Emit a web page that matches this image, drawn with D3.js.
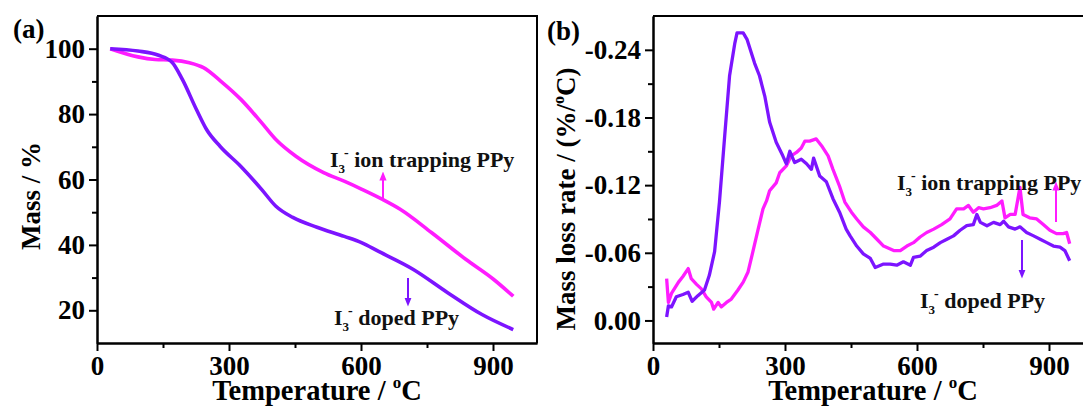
<!DOCTYPE html>
<html>
<head>
<meta charset="utf-8">
<script src="https://cdn.jsdelivr.net/npm/d3@7"></script>
<style>
  body { margin: 0; background: #fff; }
  text { font-family: "Liberation Serif", "Times New Roman", serif; font-weight: bold; }
</style>
</head>
<body>
<svg width="1083" height="406"></svg>
<script>
// TGA curves (a): temperature (C) and mass (%)
const tgaDopedT    = [30, 93, 140, 171, 194, 226, 249, 280, 327, 374, 406, 445, 500, 562, 601, 640, 719, 797, 875, 946];
const tgaDopedM    = [100, 99.3, 98, 95.8, 90.6, 81.4, 75.3, 70.1, 64, 57, 51.9, 48.4, 45.4, 42.6, 40.7, 38, 32.5, 25.4, 18.7, 14.1];
const tgaTrapT     = [30, 93, 132, 171, 210, 242, 281, 327, 374, 406, 452, 515, 563, 602, 649, 689, 760, 838, 901, 946];
const tgaTrapM     = [100, 97.5, 96.7, 96.5, 95.7, 94.2, 90.1, 84.5, 77.4, 72.3, 67.1, 62.1, 59.4, 57, 53.9, 50.9, 43.8, 35.6, 29.5, 24.3];

// DTG curves (b): temperature (C) and mass loss rate (%/C)
const dtgDopedT = [31, 35, 42, 53, 68, 80, 89, 102, 117, 128, 140, 151, 163, 174, 186, 191, 205, 214, 231, 242, 254, 265, 280, 295, 303, 311, 322, 337, 349, 360, 365, 379, 394, 409, 424, 439, 448, 463, 478, 494, 505, 524, 539, 554, 569, 585, 592, 607, 622, 638, 653, 668, 683, 698, 713, 728, 736, 744, 759, 774, 789, 797, 808, 823, 834, 849, 865, 880, 895, 910, 925, 936, 947];
const dtgDopedR = [-0.003, -0.013, -0.012, -0.021, -0.023, -0.025, -0.017, -0.022, -0.027, -0.040, -0.061, -0.105, -0.164, -0.217, -0.246, -0.255, -0.255, -0.249, -0.228, -0.217, -0.199, -0.176, -0.158, -0.146, -0.139, -0.150, -0.140, -0.143, -0.139, -0.134, -0.144, -0.128, -0.123, -0.108, -0.096, -0.081, -0.075, -0.066, -0.059, -0.055, -0.047, -0.050, -0.050, -0.049, -0.052, -0.049, -0.056, -0.057, -0.062, -0.065, -0.069, -0.072, -0.075, -0.080, -0.084, -0.085, -0.094, -0.087, -0.084, -0.087, -0.085, -0.088, -0.083, -0.081, -0.083, -0.078, -0.075, -0.072, -0.069, -0.066, -0.065, -0.062, -0.053];
const dtgTrapT = [31, 35, 42, 58, 68, 80, 87, 99, 110, 121, 133, 138, 148, 155, 167, 178, 193, 205, 216, 227, 239, 250, 258, 265, 280, 288, 303, 314, 326, 337, 345, 356, 371, 383, 398, 409, 424, 436, 451, 463, 478, 494, 509, 524, 547, 562, 577, 592, 607, 622, 638, 656, 675, 690, 706, 717, 728, 740, 751, 766, 781, 793, 800, 812, 823, 834, 841, 856, 872, 887, 902, 917, 932, 940, 947];
const dtgTrapR = [-0.037, -0.016, -0.024, -0.034, -0.039, -0.046, -0.037, -0.032, -0.028, -0.021, -0.016, -0.010, -0.016, -0.012, -0.016, -0.019, -0.027, -0.034, -0.043, -0.061, -0.081, -0.099, -0.106, -0.115, -0.122, -0.131, -0.137, -0.146, -0.149, -0.153, -0.159, -0.159, -0.161, -0.155, -0.146, -0.134, -0.119, -0.105, -0.096, -0.090, -0.083, -0.078, -0.072, -0.066, -0.062, -0.062, -0.066, -0.069, -0.074, -0.078, -0.081, -0.085, -0.090, -0.099, -0.099, -0.102, -0.096, -0.100, -0.099, -0.100, -0.102, -0.106, -0.091, -0.094, -0.094, -0.118, -0.094, -0.091, -0.090, -0.085, -0.080, -0.077, -0.077, -0.078, -0.068];

// tick labels
const xTicks  = [0, 300, 600, 900];
const xMinor  = [150, 450, 750];
const aYTicks = [20, 40, 60, 80, 100];
const aYMinor = [30, 50, 70, 90];
const bYTicks = [0, -0.06, -0.12, -0.18, -0.24];
const bYMinor = [-0.03, -0.09, -0.15, -0.21];

const pink = '#ff1cff';
const purple = '#7c14ff';

const svg = d3.select('svg');
svg.append('rect').attr('width', 1083).attr('height', 406).attr('fill', '#fff');

const plotTop = 16, plotBottom = 343;

const zip = (xs, ys) => xs.map((x, i) => [x, ys[i]]);

// arrowheads
const defs = svg.append('defs');
[['pinkHead', pink], ['purpleHead', purple]].forEach(([id, c]) => {
    defs.append('marker')
        .attr('id', id)
        .attr('viewBox', '0 0 10 10')
        .attr('refX', 5).attr('refY', 5)
        .attr('markerWidth', 4.5).attr('markerHeight', 4.5)
        .attr('orient', 'auto')
      .append('path').attr('d', 'M0,1 L10,5 L0,9 Z').attr('fill', c);
});

// draws one frame with axes, returns scales
const panel = (left, right, yDomain, yTicks, yMinor, fmt) => {
    const x = d3.scaleLinear().domain([0, 1000]).range([left, right]);
    const y = d3.scaleLinear().domain(yDomain).range([plotBottom, plotTop]);

    const g = svg.append('g');
    // minor ticks
    g.append('g').attr('transform', `translate(0,${plotBottom})`)
        .call(d3.axisBottom(x).tickValues(xMinor).tickSize(5).tickSizeOuter(0).tickFormat(''));
    g.append('g').attr('transform', `translate(${left},0)`)
        .call(d3.axisLeft(y).tickValues(yMinor).tickSize(5).tickSizeOuter(0).tickFormat(''));
    // major ticks
    g.append('g').attr('transform', `translate(0,${plotBottom})`)
        .call(d3.axisBottom(x).tickValues(xTicks).tickSize(8).tickSizeOuter(0).tickPadding(5));
    g.append('g').attr('transform', `translate(${left},0)`)
        .call(d3.axisLeft(y).tickValues(yTicks).tickSize(8).tickSizeOuter(0).tickPadding(4).tickFormat(fmt));

    g.selectAll('.domain').attr('stroke-width', 2);
    g.selectAll('.tick line').attr('stroke-width', 2);
    g.selectAll('.tick text')
        .style('font-family', '"Liberation Serif", "Times New Roman", serif')
        .style('font-weight', 'bold')
        .attr('font-size', 27)
        .attr('fill', '#000');

    // top and right border
    g.append('path')
        .attr('d', `M${left},${plotTop}H${right}V${plotBottom}`)
        .attr('fill', 'none').attr('stroke', '#000').attr('stroke-width', 2);

    // x title
    const t = g.append('text')
        .attr('x', (left + right) / 2).attr('y', 400)
        .attr('text-anchor', 'middle').attr('font-size', 28.5);
    t.append('tspan').text('Temperature / ');
    t.append('tspan').attr('font-size', 17).attr('dy', -12).text('o');
    t.append('tspan').attr('dy', 12).text('C');

    return { x, y };
};

const label = (x, y, name) => {
    const t = svg.append('text').attr('x', x).attr('y', y).attr('font-size', 22).attr('fill', '#111');
    t.append('tspan').text('I');
    t.append('tspan').attr('font-size', 13).attr('dy', 6).text('3');
    t.append('tspan').attr('font-size', 14).attr('dy', -16).attr('dx', -1).text('-');
    t.append('tspan').attr('dy', 10).text(' ' + name);
};

const arrow = (x, y1, y2, color, head) => {
    svg.append('line')
        .attr('x1', x).attr('x2', x).attr('y1', y1).attr('y2', y2)
        .attr('stroke', color).attr('stroke-width', 2)
        .attr('marker-end', `url(#${head})`);
};

// ---- panel (a)
const a = panel(97, 537, [10, 110], aYTicks, aYMinor, d3.format('d'));
const lineA = d3.line().x(d => a.x(d[0])).y(d => a.y(d[1])).curve(d3.curveMonotoneX);
svg.append('path').datum(zip(tgaTrapT, tgaTrapM)).attr('d', lineA)
    .attr('fill', 'none').attr('stroke', pink).attr('stroke-width', 3.6);
svg.append('path').datum(zip(tgaDopedT, tgaDopedM)).attr('d', lineA)
    .attr('fill', 'none').attr('stroke', purple).attr('stroke-width', 3.6);

svg.append('text').attr('x', 13).attr('y', 38).attr('font-size', 27).text('(a)');
svg.append('text')
    .attr('transform', 'translate(40,196) rotate(-90)')
    .attr('text-anchor', 'middle').attr('font-size', 27)
    .text('Mass / %');

label(330, 167, 'ion trapping PPy');
arrow(383, 200, 176, pink, 'pinkHead');
label(334, 325, 'doped PPy');
arrow(408, 278, 302, purple, 'purpleHead');

// ---- panel (b)
const bFmt = v => v === 0 ? '0.00' : v.toFixed(2);
const b = panel(653, 1093, [0.02, -0.27], bYTicks, bYMinor, bFmt);
const lineB = d3.line().x(d => b.x(d[0])).y(d => b.y(d[1]));
svg.append('path').datum(zip(dtgTrapT, dtgTrapR)).attr('d', lineB)
    .attr('fill', 'none').attr('stroke', pink).attr('stroke-width', 3.3)
    .attr('stroke-linejoin', 'round');
svg.append('path').datum(zip(dtgDopedT, dtgDopedR)).attr('d', lineB)
    .attr('fill', 'none').attr('stroke', purple).attr('stroke-width', 3.3)
    .attr('stroke-linejoin', 'round');

svg.append('text').attr('x', 547).attr('y', 40).attr('font-size', 27).text('(b)');
const yb = svg.append('text')
    .attr('transform', 'translate(575,199) rotate(-90)')
    .attr('text-anchor', 'middle').attr('font-size', 27);
yb.append('tspan').text('Mass loss rate / (%/');
yb.append('tspan').attr('font-size', 16).attr('dy', -11).text('o');
yb.append('tspan').attr('dy', 11).text('C)');

label(897, 190, 'ion trapping PPy');
arrow(1056, 222, 186, pink, 'pinkHead');
label(920, 308, 'doped PPy');
arrow(1022, 240, 274, purple, 'purpleHead');
</script>
</body>
</html>
